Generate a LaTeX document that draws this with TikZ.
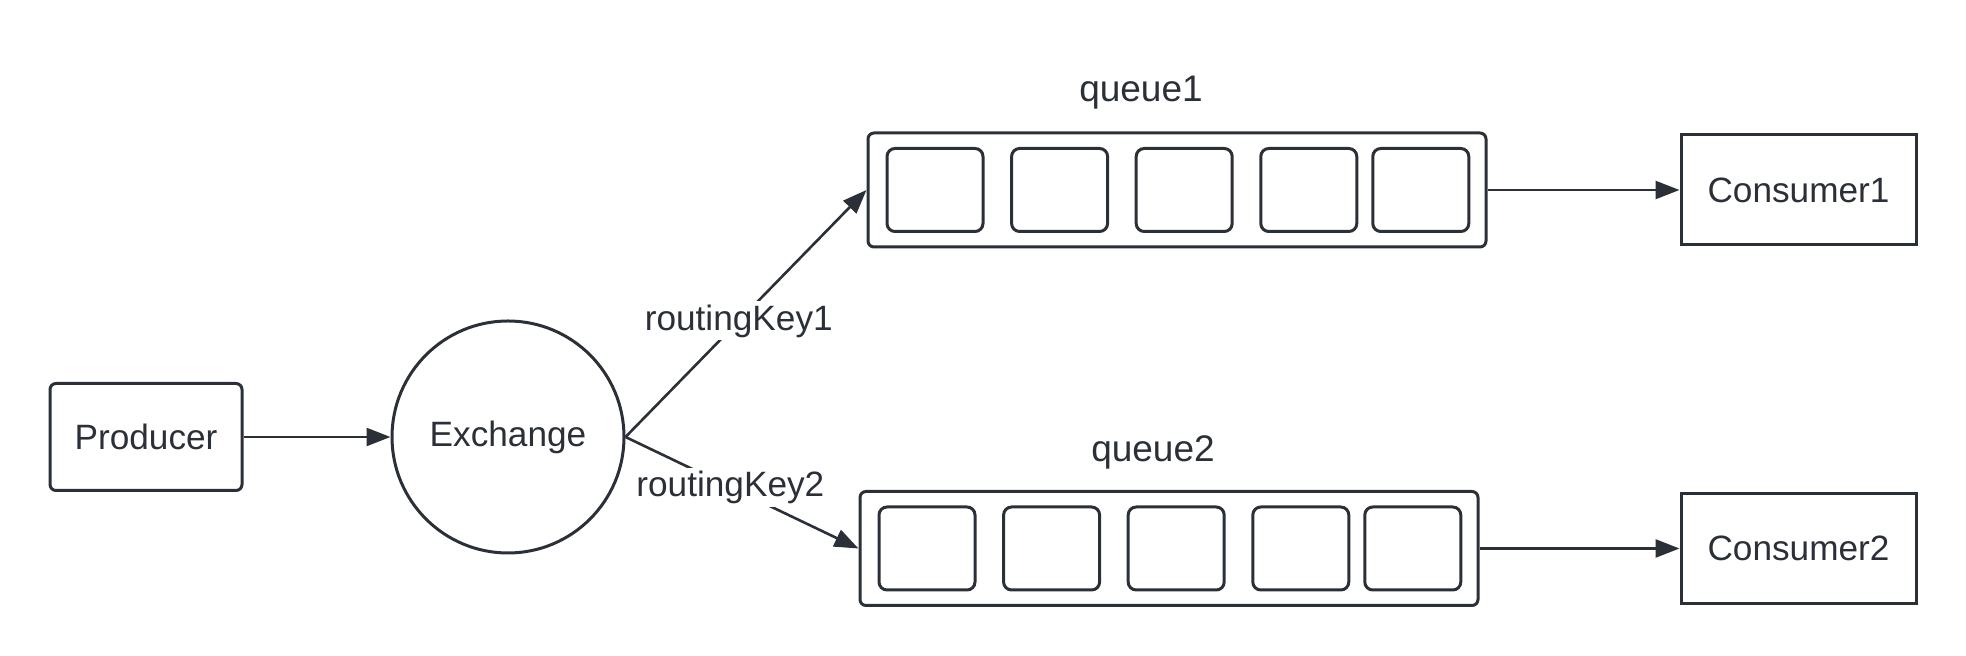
\documentclass[tikz,border=0pt]{standalone}
\usepackage{fontspec}
\setmainfont{Liberation Sans}
\usepackage{xcolor}
\usetikzlibrary{arrows.meta,positioning}

\definecolor{ink}{HTML}{2B3038}

\begin{document}
\begin{tikzpicture}[
    x=0.5pt, y=-0.5pt,
    node distance=12.8pt,
    font=\fontsize{17.6}{21}\selectfont,
    party/.style={rectangle, rounded corners=3pt, draw=ink, line width=1.5pt, text=ink, minimum width=96pt, minimum height=53.5pt},
    client/.style={rectangle, draw=ink, line width=1.5pt, text=ink, minimum width=117.5pt, minimum height=55pt},
    hub/.style={circle, draw=ink, line width=1.5pt, text=ink, minimum size=116pt, inner sep=0pt},
    queuebox/.style={rectangle, rounded corners=3pt, draw=ink, line width=1.5pt, minimum width=309pt, minimum height=57pt},
    slot/.style={rectangle, rounded corners=4pt, draw=ink, line width=1.5pt, minimum width=48pt, minimum height=41.5pt},
    qname/.style={text=ink, font=\fontsize{18.5}{22}\selectfont},
    keylabel/.style={fill=white, text=ink, inner sep=1.5pt},
    arrow/.style={-{Triangle[length=12pt, width=9pt]}, line width=1.3pt, draw=ink}
]
    \useasboundingbox (0,0) rectangle (1966,656);

    % Producer and exchange
    \node[party] (prod) at (146,437) {Producer};
    \node[hub] (ex) at (508,437) {Exchange};

    % Queues
    \node[queuebox] (q1) at (1177,190) {};
    \node[queuebox] (q2) at (1169,548.5) {};
    \node[qname] (q1name) at (1141,93) {queue1};
    \node[qname] (q2name) at (1153,452) {queue2};

    % Slots of queue1
    \node[slot, right=9.5pt of q1.west] (s11) {};
    \node[slot, right=of s11] (s12) {};
    \node[slot, right=of s12] (s13) {};
    \node[slot, right=of s13] (s14) {};
    \node[slot, right=6.5pt of s14] (s15) {};

    % Slots of queue2
    \node[slot, right=9.5pt of q2.west] (s21) {};
    \node[slot, right=of s21] (s22) {};
    \node[slot, right=of s22] (s23) {};
    \node[slot, right=of s23] (s24) {};
    \node[slot, right=6.5pt of s24] (s25) {};

    % Consumers
    \node[client] (cons1) at (1798.5,190) {Consumer1};
    \node[client] (cons2) at (1798.5,548.5) {Consumer2};

    % Arrows
    \draw[arrow] (prod) -- (ex);
    \draw[arrow] (ex.east) -- node[keylabel, pos=0.47] {routingKey1} (q1.west);
    \draw[arrow] (ex.east) -- node[keylabel, pos=0.45] {routingKey2} (q2.west);
    \draw[arrow] (q1) -- (cons1);
    \draw[arrow] (q2) -- (cons2);
\end{tikzpicture}
\end{document}
